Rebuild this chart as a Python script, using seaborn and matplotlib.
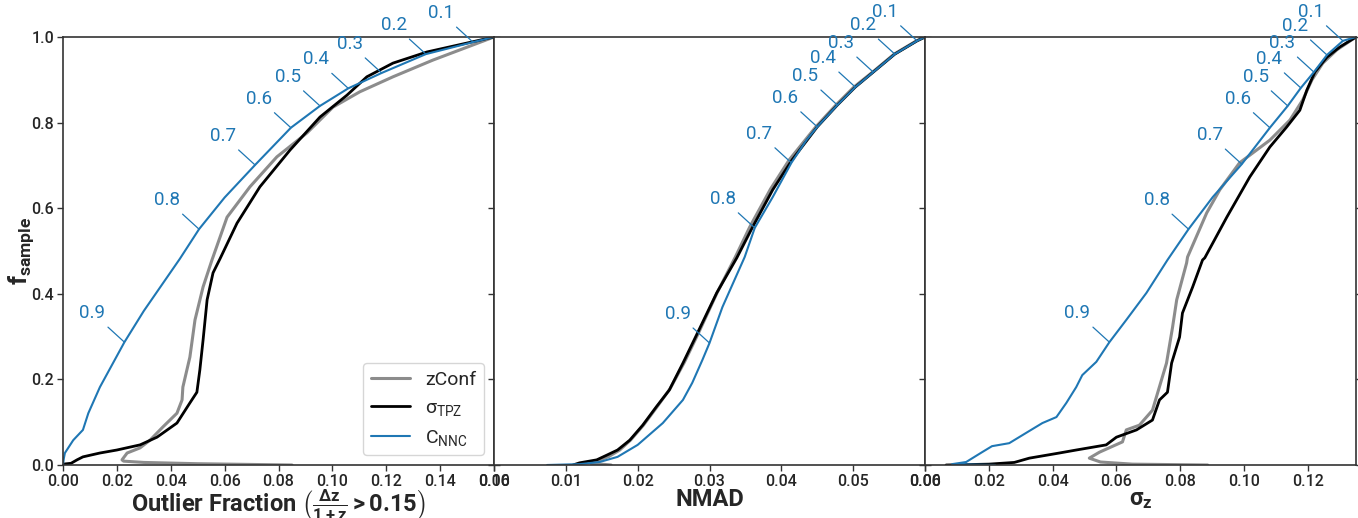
import matplotlib
matplotlib.use("Agg")
import matplotlib.pyplot as plt
import numpy as np
import pandas as pd
import seaborn as sns

sns.set_style("ticks")
plt.rcParams["font.family"] = ["Roboto", "DejaVu Sans"]
plt.rcParams["mathtext.fontset"] = "custom"
plt.rcParams["mathtext.rm"] = "Roboto"
plt.rcParams["mathtext.it"] = "Roboto:italic"
plt.rcParams["mathtext.bf"] = "Roboto:bold"

GRAY = "#8c8c8c"
BLACK = "#000000"
BLUE = "#1f77b4"

thresholds = [0.1, 0.2, 0.3, 0.4, 0.5, 0.6, 0.7, 0.8, 0.9]

# ---------------- Outlier fraction ----------------
out_zconf_x = [0.085, 0.050, 0.030, 0.0225, 0.0219, 0.0238, 0.0286, 0.0323, 0.0371, 0.0423, 0.0442,
               0.0445, 0.0471, 0.0490, 0.0520, 0.0553, 0.0557, 0.0609, 0.0694, 0.0794, 0.0906,
               0.1002, 0.1102, 0.1225, 0.1373, 0.1600]
out_zconf_y = [0.000, 0.003, 0.006, 0.009, 0.012, 0.028, 0.040, 0.058, 0.089, 0.121, 0.152,
               0.182, 0.252, 0.339, 0.416, 0.479, 0.486, 0.579, 0.650, 0.720, 0.776,
               0.836, 0.872, 0.907, 0.946, 1.000]
out_tpz_x = [0.0000, 0.0030, 0.0052, 0.0074, 0.0137, 0.0200, 0.0286, 0.0349, 0.0423, 0.0471, 0.0497,
             0.0508, 0.0520, 0.0535, 0.0557, 0.0583, 0.0646, 0.0731, 0.0843, 0.0954, 0.1054,
             0.1128, 0.1225, 0.1351, 0.1600]
out_tpz_y = [0.002, 0.004, 0.012, 0.019, 0.028, 0.035, 0.047, 0.065, 0.098, 0.145, 0.170,
             0.222, 0.292, 0.386, 0.449, 0.482, 0.565, 0.650, 0.736, 0.813, 0.864,
             0.907, 0.939, 0.965, 1.000]
out_nnc_x = [0.0000, 0.0003, 0.0007, 0.0038, 0.0074, 0.0094, 0.0137, 0.0228, 0.0300, 0.0434, 0.0505,
             0.0600, 0.0713, 0.0846, 0.0954, 0.1059, 0.1183, 0.1347, 0.1522, 0.1600]
out_nnc_y = [0.000, 0.015, 0.028, 0.058, 0.082, 0.121, 0.182, 0.287, 0.360, 0.482, 0.551,
             0.625, 0.701, 0.788, 0.839, 0.880, 0.916, 0.960, 0.988, 1.000]
out_thr_x = [0.1522, 0.1347, 0.1183, 0.1059, 0.0954, 0.0846, 0.0713, 0.0505, 0.0228]
out_thr_y = [0.988, 0.960, 0.916, 0.880, 0.839, 0.788, 0.701, 0.551, 0.287]

# ---------------- NMAD ----------------
nmad_zconf_x = [0.0163, 0.0135, 0.0145, 0.0160, 0.0175, 0.0190, 0.0208, 0.0227, 0.0245, 0.0265,
                0.0284, 0.0311, 0.0336, 0.0356, 0.0385, 0.0411, 0.0448, 0.0476, 0.0501, 0.0527,
                0.0557, 0.0588, 0.0600]
nmad_zconf_y = [0.000, 0.004, 0.010, 0.020, 0.035, 0.058, 0.093, 0.136, 0.178, 0.240,
                0.306, 0.404, 0.486, 0.556, 0.645, 0.713, 0.790, 0.841, 0.883, 0.918,
                0.960, 0.991, 1.000]
nmad_tpz_x = [0.0110, 0.0119, 0.0143, 0.0157, 0.0172, 0.0189, 0.0207, 0.0226, 0.0244, 0.0263,
              0.0282, 0.0310, 0.0338, 0.0360, 0.0388, 0.0415, 0.0450, 0.0478, 0.0503, 0.0528,
              0.0558, 0.0589, 0.0600]
nmad_tpz_y = [0.000, 0.005, 0.012, 0.023, 0.035, 0.058, 0.093, 0.136, 0.175, 0.238,
              0.304, 0.402, 0.484, 0.556, 0.643, 0.713, 0.790, 0.841, 0.883, 0.918,
              0.960, 0.991, 1.000]
nmad_nnc_x = [0.0074, 0.0119, 0.0147, 0.0172, 0.0200, 0.0235, 0.0263, 0.0276, 0.0290, 0.0300,
              0.0318, 0.0349, 0.0363, 0.0388, 0.0414, 0.0435, 0.0450, 0.0478, 0.0503, 0.0528,
              0.0558, 0.0589, 0.0600]
nmad_nnc_y = [0.000, 0.002, 0.007, 0.019, 0.047, 0.098, 0.152, 0.192, 0.245, 0.285,
              0.369, 0.486, 0.554, 0.626, 0.706, 0.759, 0.790, 0.841, 0.883, 0.918,
              0.960, 0.991, 1.000]
nmad_thr_x = [0.0589, 0.0558, 0.0528, 0.0503, 0.0478, 0.0450, 0.0414, 0.0363, 0.0300]
nmad_thr_y = [0.991, 0.960, 0.918, 0.883, 0.841, 0.790, 0.706, 0.554, 0.285]

# ---------------- sigma_z ----------------
sig_zconf_x = [0.0886, 0.0650, 0.0550, 0.0515, 0.0547, 0.0619, 0.0631, 0.0672, 0.0713, 0.0729,
               0.0757, 0.0776, 0.0789, 0.0820, 0.0823, 0.0883, 0.0924, 0.0986, 0.1081, 0.1144,
               0.1184, 0.1213, 0.1247, 0.1291, 0.1351]
sig_zconf_y = [0.000, 0.002, 0.007, 0.016, 0.030, 0.054, 0.082, 0.093, 0.128, 0.168,
               0.238, 0.322, 0.386, 0.472, 0.486, 0.589, 0.643, 0.706, 0.759, 0.806,
               0.853, 0.900, 0.939, 0.970, 1.000]
sig_tpz_x = [0.0066, 0.0200, 0.0280, 0.0327, 0.0421, 0.0474, 0.0568, 0.0600, 0.0663, 0.0713,
             0.0735, 0.0760, 0.0773, 0.0798, 0.0807, 0.0839, 0.0870, 0.0877, 0.0946, 0.1018,
             0.1081, 0.1134, 0.1175, 0.1197, 0.1222, 0.1260, 0.1301, 0.1351]
sig_tpz_y = [0.000, 0.002, 0.006, 0.016, 0.028, 0.035, 0.047, 0.065, 0.082, 0.105,
             0.152, 0.170, 0.238, 0.299, 0.355, 0.416, 0.479, 0.484, 0.579, 0.673,
             0.743, 0.790, 0.829, 0.876, 0.918, 0.953, 0.977, 1.000]
sig_nnc_x = [0.0220, 0.0085, 0.0129, 0.0179, 0.0210, 0.0264, 0.0317, 0.0368, 0.0412, 0.0443,
             0.0474, 0.0493, 0.0537, 0.0578, 0.0631, 0.0694, 0.0760, 0.0826, 0.0902, 0.0993,
             0.1081, 0.1137, 0.1178, 0.1219, 0.1260, 0.1310, 0.1351]
sig_nnc_y = [0.000, 0.002, 0.007, 0.030, 0.044, 0.051, 0.075, 0.098, 0.112, 0.145,
             0.182, 0.210, 0.241, 0.287, 0.339, 0.402, 0.479, 0.551, 0.626, 0.703,
             0.788, 0.839, 0.881, 0.918, 0.958, 0.991, 1.000]
sig_thr_x = [0.1310, 0.1260, 0.1219, 0.1178, 0.1137, 0.1081, 0.0993, 0.0826, 0.0578]
sig_thr_y = [0.991, 0.958, 0.918, 0.881, 0.839, 0.788, 0.703, 0.551, 0.287]

panels = [
    dict(curves=[(out_zconf_x, out_zconf_y), (out_tpz_x, out_tpz_y), (out_nnc_x, out_nnc_y)],
         thr=(out_thr_x, out_thr_y), xmax=0.16, step=0.02,
         xlabel=r"Outlier Fraction $\left(\mathbf{\frac{\Delta z}{1+z} > 0.15}\right)$"),
    dict(curves=[(nmad_zconf_x, nmad_zconf_y), (nmad_tpz_x, nmad_tpz_y), (nmad_nnc_x, nmad_nnc_y)],
         thr=(nmad_thr_x, nmad_thr_y), xmax=0.06, step=0.01, xlabel="NMAD"),
    dict(curves=[(sig_zconf_x, sig_zconf_y), (sig_tpz_x, sig_tpz_y), (sig_nnc_x, sig_nnc_y)],
         thr=(sig_thr_x, sig_thr_y), xmax=0.1351, step=0.02, xlabel=r"$\mathbf{σ_z}$"),
]

names = ["zConf", r"$\mathrm{σ_{TPZ}}$", r"$\mathrm{C_{NNC}}$"]
colors = [GRAY, BLACK, BLUE]
widths = [2.2, 2.0, 1.5]

W, H = 1358, 518
fig = plt.figure(figsize=(W / 100, H / 100), dpi=100)
left, right, bottom, top = 63, 1356, 53, 481
pw = (right - left) / 3

for i, p in enumerate(panels):
    ax = fig.add_axes([(left + i * pw) / W, bottom / H, pw / W, (top - bottom) / H])
    for (xs, ys), name, c, lw in zip(p["curves"], names, colors, widths):
        df = pd.DataFrame({"x": xs, "y": ys})
        sns.lineplot(data=df, x="x", y="y", sort=False, estimator=None, ax=ax,
                     color=c, lw=lw, label=name if i == 0 else None)
    tx, ty = p["thr"]
    for t, x, y in zip(thresholds, tx, ty):
        ax.annotate(f"{t:.1f}", xy=(x, y), xytext=(-23, 21), textcoords="offset points",
                    ha="center", va="center", color=BLUE, fontsize=13.5,
                    arrowprops=dict(arrowstyle="-", color=BLUE, lw=0.9, shrinkA=2, shrinkB=0))
    ax.set_xlim(0, p["xmax"])
    ax.set_ylim(0, 1.0)
    xt = np.arange(0, p["xmax"] + 1e-9, p["step"])
    ax.set_xticks(xt)
    ax.set_xticklabels([f"{v:.2f}" for v in xt])
    ax.set_yticks(np.arange(0, 1.01, 0.2))
    ax.tick_params(axis="both", labelsize=11.5, right=True, length=4, width=1,
                   color="#333333", pad=2.5)
    ax.set_xlabel(p["xlabel"], fontsize=17, fontweight="bold", labelpad=-1)
    if i == 0:
        ax.set_yticklabels([f"{v:.1f}" for v in np.arange(0, 1.01, 0.2)])
        ax.set_ylabel(r"$\mathbf{f_{sample}}$", fontsize=18)
        ax.yaxis.set_label_coords(-0.062, 0.5)
        ax.legend(loc="lower right", fontsize=14, frameon=True, handlelength=2.0)
    else:
        ax.set_yticklabels([])
        ax.set_ylabel("")
    for lab in ax.get_xticklabels() + ax.get_yticklabels():
        lab.set_fontweight(500)
    for s in ax.spines.values():
        s.set_color("#333333")
        s.set_linewidth(1.2)

fig.savefig("out.png", dpi=100)
